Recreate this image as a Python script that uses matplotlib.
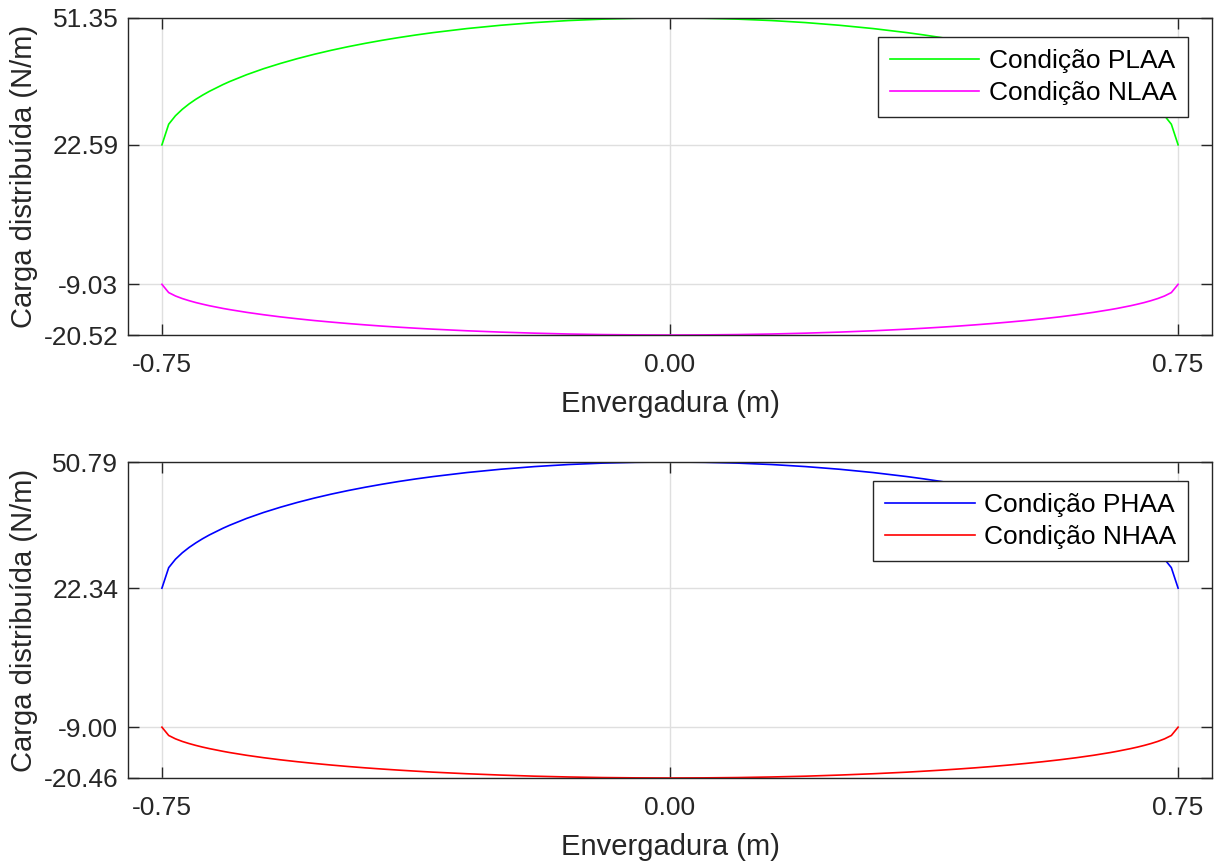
import numpy as np
import matplotlib
matplotlib.use("Agg")
import matplotlib.pyplot as plt

plt.rcParams['font.family'] = ['Liberation Sans', 'DejaVu Sans']
plt.rcParams['axes.unicode_minus'] = False

# metade da envergadura (da ponta esquerda ate o centro)
x_meia = [-0.75, -0.74, -0.73, -0.72, -0.71, -0.70, -0.69, -0.68, -0.66, -0.65,
          -0.625, -0.60, -0.575, -0.55, -0.525, -0.50, -0.475, -0.45, -0.425, -0.40,
          -0.375, -0.35, -0.30, -0.25, -0.20, -0.15, -0.10, -0.05, 0.00]

plaa_meia = [22.59, 27.27, 29.19, 30.64, 31.86, 32.92, 33.86, 34.72, 36.25, 36.94,
             38.49, 39.85, 41.05, 42.14, 43.13, 44.03, 44.85, 45.60, 46.29, 46.92,
             47.50, 48.03, 48.95, 49.70, 50.31, 50.77, 51.09, 51.29, 51.35]
nlaa_meia = [-9.03, -10.90, -11.67, -12.25, -12.73, -13.16, -13.53, -13.88, -14.49, -14.76,
             -15.38, -15.92, -16.41, -16.84, -17.24, -17.59, -17.92, -18.22, -18.50, -18.75,
             -18.98, -19.19, -19.56, -19.86, -20.10, -20.29, -20.42, -20.49, -20.52]
phaa_meia = [22.34, 26.97, 28.87, 30.31, 31.51, 32.55, 33.49, 34.34, 35.85, 36.53,
             38.07, 39.41, 40.60, 41.68, 42.66, 43.55, 44.36, 45.10, 45.78, 46.41,
             46.98, 47.50, 48.41, 49.16, 49.76, 50.22, 50.54, 50.73, 50.79]
nhaa_meia = [-9.00, -10.87, -11.63, -12.21, -12.69, -13.11, -13.49, -13.83, -14.44, -14.72,
             -15.34, -15.88, -16.36, -16.79, -17.18, -17.54, -17.87, -18.17, -18.44, -18.69,
             -18.92, -19.14, -19.50, -19.80, -20.05, -20.23, -20.36, -20.43, -20.46]

x_ticks = [-0.75, 0.0, 0.75]
y_ticks_sup = [-20.52, -9.03, 22.59, 51.35]
y_ticks_inf = [-20.46, -9.00, 22.34, 50.79]


def espelhar(meia, sinal=1):
    # distribuicao simetrica: completa a outra metade da asa
    meia = np.array(meia)
    return np.concatenate([meia, sinal * meia[-2::-1]])


x = espelhar(x_meia, -1)

fig = plt.figure(figsize=(12.16, 8.61), dpi=100)
ax1 = fig.add_axes([0.1053, 0.6109, 0.8914, 0.3682])
ax2 = fig.add_axes([0.1053, 0.0964, 0.8914, 0.3670])

paineis = [
    (ax1, espelhar(plaa_meia), espelhar(nlaa_meia), '#00ff00', '#ff00ff',
     'Condição PLAA', 'Condição NLAA', y_ticks_sup),
    (ax2, espelhar(phaa_meia), espelhar(nhaa_meia), '#0000ff', '#ff0000',
     'Condição PHAA', 'Condição NHAA', y_ticks_inf),
]

for ax, pos, neg, c_pos, c_neg, lab_pos, lab_neg, yt in paineis:
    ax.plot(x, pos, color=c_pos, lw=1.2, label=lab_pos)
    ax.plot(x, neg, color=c_neg, lw=1.2, label=lab_neg)
    ax.set_xlim(-0.8, 0.8)
    ax.set_ylim(yt[0], yt[-1])
    ax.set_xticks(x_ticks)
    ax.set_xticklabels(['%.2f' % v for v in x_ticks])
    ax.set_yticks(yt)
    ax.set_yticklabels(['%.2f' % v for v in yt])
    ax.grid(True, color='#dfdfdf', lw=1)
    ax.set_axisbelow(True)
    ax.tick_params(direction='in', length=8, width=1, labelsize=19,
                   top=True, right=True, colors='#262626', labelcolor='#262626')
    ax.tick_params(axis='x', pad=13)
    ax.tick_params(axis='y', pad=7)
    for sp in ax.spines.values():
        sp.set_color('#262626')
        sp.set_linewidth(1)
    ax.set_xlabel('Envergadura (m)', fontsize=21, color='#262626', labelpad=9)
    ax.set_ylabel('Carga distribuída (N/m)', fontsize=21, color='#262626', labelpad=4)
    leg = ax.legend(loc='upper right', bbox_to_anchor=(0.978, 0.94), borderaxespad=0,
                    fontsize=19, handlelength=3.4, handletextpad=0.35, borderpad=0.45,
                    labelspacing=0.3, fancybox=False, framealpha=1)
    leg.get_frame().set_edgecolor('#262626')
    leg.get_frame().set_linewidth(1)

fig.savefig('out.png', dpi=100)
